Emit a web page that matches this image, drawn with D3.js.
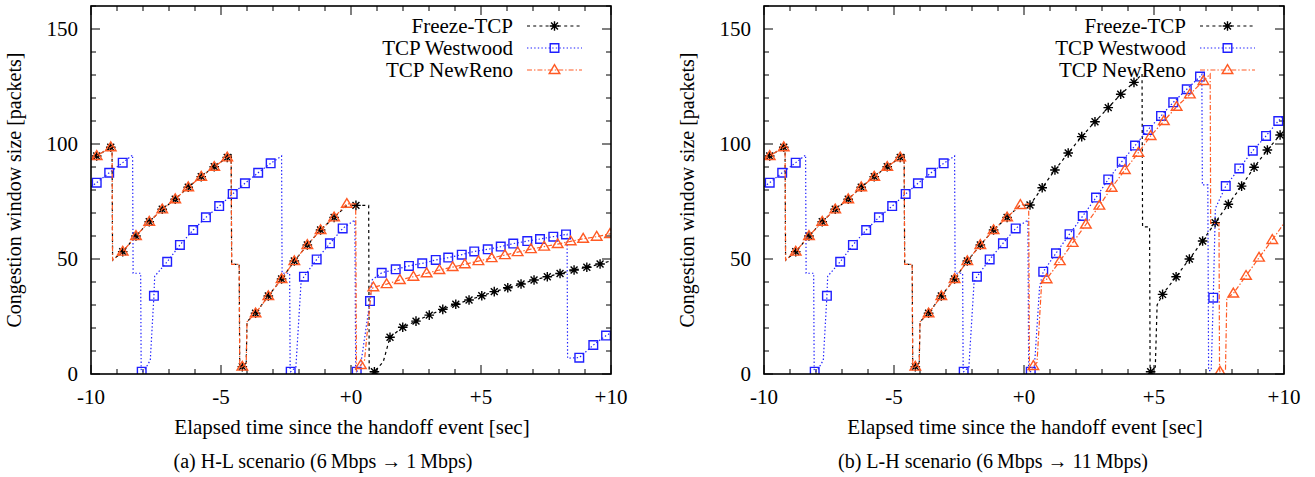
<!DOCTYPE html>
<html><head><meta charset="utf-8">
<script src="https://cdn.jsdelivr.net/npm/d3@7"></script>
<style>
body{margin:0;background:#fff}
svg text{font-family:"Liberation Serif","Times New Roman",serif;fill:#000;font-size:21px}
</style>
</head><body>
<svg id="c" width="1315" height="477"></svg>
<script>
// ---------------- DATA ----------------
const xTicks = [-10, -5, 0, 5, 10];
const xTickLabels = ["-10", "-5", "+0", "+5", "+10"];
const yTicks = [0, 50, 100, 150];
const yTickLabels = ["0", "50", "100", "150"];
const seriesNames = ["Freeze-TCP", "TCP Westwood", "TCP NewReno"];
const xTitle = "Elapsed time since the handoff event [sec]";
const yTitle = "Congestion window size [packets]";
const captions = ["(a) H-L scenario (6\u2009Mbps \u2192 1\u2009Mbps)", "(b) L-H scenario (6\u2009Mbps \u2192 11\u2009Mbps)"];

// Shared pre-handoff behaviour (identical in both scenarios)
const freezeRenoPreMarks = [[-9.78,94.8],[-9.24,98.6],[-8.78,53.2],[-8.27,60],[-7.76,66.2],[-7.26,71.6],[-6.76,76],[-6.26,81.2],[-5.76,85.8],[-5.26,90.1],[-4.76,94.2],[-4.18,3.2],[-3.67,26.4],[-3.18,33.9],[-2.67,41.3],[-2.18,49.1],[-1.68,56.1],[-1.17,62.6],[-0.65,68.1]];
const freezeRenoPreBreaks = [[-10,93.3],[-9.19,99],[-9.17,49.5],[-4.61,95.3],[-4.59,47.7],[-4.3,47.7],[-4.28,2.5],[-4.03,4.5],[-4.0,22.7]];
const westPreMarks = [[-9.78,83.2],[-9.3,87.5],[-8.78,91.9],[-8.05,1],[-7.58,34],[-7.07,48.8],[-6.58,56.1],[-6.07,62.6],[-5.58,68.1],[-5.07,73],[-4.55,78.3],[-4.08,82.9],[-3.57,87.5],[-3.09,91.6],[-2.32,1],[-1.81,42.3],[-1.32,49.8],[-0.81,56.8],[-0.32,63.3]];
const westPreBreaks = [[-10,81.4],[-8.4,95.2],[-8.38,43.8],[-8.09,43.8],[-8.07,2],[-7.95,1.5],[-7.72,6],[-7.55,42.5],[-2.67,94.8],[-2.65,43.8],[-2.36,43.8],[-2.34,2],[-2.12,3],[-1.92,40]];

// (a) H-L scenario, after the handoff
const freezeAMarks = [[0.19,73.3],[0.9,1],[1.5,16],[1.99,20.3],[2.5,23],[3.01,25.6],[3.53,28.1],[4.03,30.3],[4.54,32.2],[5.03,34],[5.51,35.8],[6.03,37.5],[6.54,39.1],[7.04,40.9],[7.55,42.3],[8.04,43.7],[8.58,45.2],[9.07,46.4],[9.58,47.8]];
const freezeABreaks = [[-0.15,73.3],[0.68,73.3],[0.7,1],[1.24,5.3],[10,49.2]];
const westAMarks = [[0.22,1],[0.73,31.7],[1.18,44],[1.72,45.5],[2.23,47],[2.74,48.1],[3.26,49.6],[3.74,50.6],[4.26,51.9],[4.74,53.3],[5.26,54.2],[5.76,55.4],[6.24,56.7],[6.78,57.8],[7.27,58.7],[7.78,59.7],[8.27,60.7],[8.78,7.1],[9.32,12.6],[9.81,16.7]];
const westABreaks = [[0.15,67],[0.18,1.5],[0.36,3],[0.82,41],[8.31,60.8],[8.33,6.9],[10,18]];
const renoAMarks = [[-0.16,74],[0.38,3.9],[0.86,37.7],[1.37,39.1],[1.88,40.9],[2.4,42.3],[2.91,43.8],[3.4,45.2],[3.91,46.5],[4.38,47.7],[4.9,49.1],[5.41,50.4],[5.92,51.7],[6.41,53],[6.92,54.3],[7.43,55.4],[7.95,56.5],[8.45,57.7],[8.93,58.8],[9.45,59.7],[9.96,60.9]];
const renoABreaks = [[0.18,74],[0.21,1.5],[0.52,6],[0.78,36.5],[10,61]];

// (b) L-H scenario, after the handoff
const freezeBMarks = [[0.23,73.5],[0.7,81],[1.19,88.7],[1.7,96.1],[2.22,103.2],[2.73,109.7],[3.24,115.8],[3.72,121.6],[4.23,126.8],[4.87,1],[5.33,34.6],[5.85,42.3],[6.36,50],[6.87,57.8],[7.35,65.8],[7.86,73.8],[8.37,81.7],[8.85,89.9],[9.36,97.4],[9.85,103.9]];
const freezeBBreaks = [[-0.15,73.3],[4.54,130.4],[4.56,64],[4.83,64],[4.85,2],[5.05,3],[5.12,30],[10,106]];
const westBMarks = [[0.26,1],[0.74,44.5],[1.23,52.5],[1.75,60.8],[2.26,68.7],[2.77,76.7],[3.24,84.6],[3.76,92.3],[4.27,99.3],[4.76,106.1],[5.27,112.2],[5.74,118.1],[6.26,123.8],[6.77,129.3],[7.28,33.2],[7.76,81.7],[8.28,89.4],[8.8,97.1],[9.31,103.5],[9.78,110]];
const westBBreaks = [[0.15,67],[0.18,1.5],[0.4,3],[0.6,38],[6.84,130.3],[6.86,82.2],[7.07,82.2],[7.1,1.5],[7.2,1.5],[7.36,72],[10,112.5]];
const renoBMarks = [[-0.14,73.5],[0.36,3.5],[0.87,41.2],[1.38,49.1],[1.87,57],[2.38,65],[2.9,73.2],[3.37,81],[3.88,88.7],[4.4,96.2],[4.87,103.5],[5.38,110],[5.87,116.2],[6.38,121.6],[6.9,127.4],[7.54,1],[8.05,35],[8.54,42.7],[9.04,50.6],[9.55,58.3]];
const renoBBreaks = [[0.18,74],[0.21,1.5],[0.5,5],[0.68,40],[7.16,130.4],[7.18,65.5],[7.5,65.5],[7.52,2],[7.75,2],[7.8,33],[10,65.5]];

// ---------------- BUILD ----------------
const merge = (...arrs) => [].concat(...arrs).slice().sort((a, b) => a[0] - b[0]);
const styles = [
  {color: "#000000", dash: "3,3.2", marker: "star"},
  {color: "#1f1fff", dash: "1.4,2.2", marker: "square"},
  {color: "#ff5a24", dash: "5,2,1.4,2", marker: "triangle"}
];
const panelData = [
  [
    {marks: freezeRenoPreMarks.concat(freezeAMarks), line: merge(freezeRenoPreMarks, freezeRenoPreBreaks, freezeAMarks, freezeABreaks)},
    {marks: westPreMarks.concat(westAMarks), line: merge(westPreMarks, westPreBreaks, westAMarks, westABreaks)},
    {marks: freezeRenoPreMarks.concat(renoAMarks), line: merge(freezeRenoPreMarks, freezeRenoPreBreaks, renoAMarks, renoABreaks)}
  ],
  [
    {marks: freezeRenoPreMarks.concat(freezeBMarks), line: merge(freezeRenoPreMarks, freezeRenoPreBreaks, freezeBMarks, freezeBBreaks)},
    {marks: westPreMarks.concat(westBMarks), line: merge(westPreMarks, westPreBreaks, westBMarks, westBBreaks)},
    {marks: freezeRenoPreMarks.concat(renoBMarks), line: merge(freezeRenoPreMarks, freezeRenoPreBreaks, renoBMarks, renoBBreaks)}
  ]
];

const svg = d3.select("#c");
const PW = 520, yTop = 6, yBot = 374;

function markerPath(type) {
  if (type === "star") {
    const r = 4.8, d = r * 0.72;
    return `M${-r},0L${r},0M0,${-r}L0,${r}M${-d},${-d}L${d},${d}M${-d},${d}L${d},${-d}`;
  }
  if (type === "square") { const s = 4.3; return `M${-s},${-s}H${s}V${s}H${-s}Z`; }
  const w = 5.3, h = 8.8;
  return `M0,${-h*0.6}L${w},${h*0.4}L${-w},${h*0.4}Z`;
}

function drawPanel(idx) {
  const x0 = 91 + idx * 673;
  const x = d3.scaleLinear().domain([-10, 10]).range([x0, x0 + PW]);
  const y = d3.scaleLinear().domain([0, 160]).range([yBot, yTop]);
  const g = svg.append("g");
  const clipId = "clip" + idx;
  svg.append("clipPath").attr("id", clipId).append("rect")
    .attr("x", x0).attr("y", yTop).attr("width", PW).attr("height", yBot - yTop);

  const minorX = d3.range(-10, 10.001, 1);
  const minorY = d3.range(0, 160.001, 10);
  const tk = g.append("g").attr("stroke", "#000").attr("stroke-width", 1);
  minorX.forEach(v => {
    const L = (Math.abs(v % 5) < 1e-9) ? 9 : 5;
    tk.append("line").attr("x1", x(v)).attr("x2", x(v)).attr("y1", yBot).attr("y2", yBot - L);
    tk.append("line").attr("x1", x(v)).attr("x2", x(v)).attr("y1", yTop).attr("y2", yTop + L);
  });
  minorY.forEach(v => {
    const L = (v % 50 === 0) ? 9 : 5;
    tk.append("line").attr("x1", x0).attr("x2", x0 + L).attr("y1", y(v)).attr("y2", y(v));
    tk.append("line").attr("x1", x0 + PW).attr("x2", x0 + PW - L).attr("y1", y(v)).attr("y2", y(v));
  });

  xTicks.forEach((v, i) => g.append("text").attr("x", x(v)).attr("y", 404).attr("text-anchor", "middle").text(xTickLabels[i]));
  yTicks.forEach((v, i) => g.append("text").attr("x", x0 - 13).attr("y", y(v) + 7).attr("text-anchor", "end").text(yTickLabels[i]));

  g.append("text").attr("x", x0 + 261).attr("y", 434).attr("text-anchor", "middle").text(xTitle);
  g.append("text").attr("transform", `translate(${x0 - 70},190) rotate(-90)`).attr("text-anchor", "middle")
    .style("font-size", "20px").text(yTitle);
  g.append("text").attr("x", x0 + (idx === 0 ? 232 : 229)).attr("y", 468).attr("text-anchor", "middle")
    .style("font-size", "20px").text(captions[idx]);

  const line = d3.line().x(d => x(d[0])).y(d => y(d[1]));
  const plot = g.append("g").attr("clip-path", `url(#${clipId})`);
  panelData[idx].forEach((s, si) => {
    const st = styles[si];
    plot.append("path").attr("d", line(s.line)).attr("fill", "none")
      .attr("stroke", st.color).attr("stroke-width", 1.2).attr("stroke-dasharray", st.dash);
    plot.selectAll(null).data(s.marks).enter().append("path")
      .attr("transform", d => `translate(${x(d[0])},${y(d[1])})`)
      .attr("d", markerPath(st.marker)).attr("fill", "none")
      .attr("stroke", st.color).attr("stroke-width", 1.4);
  });

  const lx1 = x0 + 436, lx2 = x0 + 491, ltx = x0 + 422;
  seriesNames.forEach((n, i) => {
    const yy = 26 + i * 22, st = styles[i];
    g.append("text").attr("x", ltx).attr("y", yy + 7).attr("text-anchor", "end").text(n);
    g.append("line").attr("x1", lx1).attr("x2", lx2).attr("y1", yy).attr("y2", yy)
      .attr("stroke", st.color).attr("stroke-width", 1.2).attr("stroke-dasharray", st.dash);
    g.append("path").attr("transform", `translate(${(lx1 + lx2) / 2},${yy})`)
      .attr("d", markerPath(st.marker)).attr("fill", "none").attr("stroke", st.color).attr("stroke-width", 1.4);
  });

  g.append("rect").attr("x", x0).attr("y", yTop).attr("width", PW).attr("height", yBot - yTop)
    .attr("fill", "none").attr("stroke", "#000").attr("stroke-width", 1.6);
}
drawPanel(0);
drawPanel(1);
</script>
</body></html>
